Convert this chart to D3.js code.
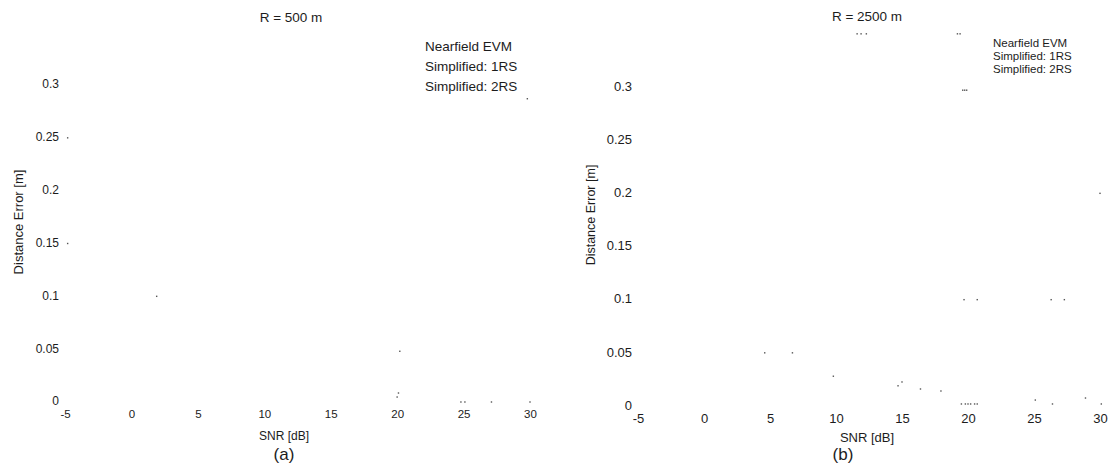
<!DOCTYPE html>
<html>
<head>
<meta charset="utf-8">
<script src="https://cdn.jsdelivr.net/npm/d3@7"></script>
<style>
  html, body { margin: 0; padding: 0; background: #fff; }
  svg { display: block; }
  text { font-family: "Liberation Sans", Arial, Helvetica, sans-serif; fill: #1c1c1c; }
</style>
</head>
<body>
<svg id="chart" width="1112" height="470"></svg>
<script>
// Axis ticks shared by both panels
const snrTicks = [-5, 0, 5, 10, 15, 20, 25, 30];
const errTicks = [0, 0.05, 0.1, 0.15, 0.2, 0.25, 0.3];

// Panel text
const panelTitles = ["R = 500 m", "R = 2500 m"];
const panelTags = ["(a)", "(b)"];
const legendLabels = ["Nearfield EVM", "Simplified: 1RS", "Simplified: 2RS"];
const xAxisTitle = "SNR [dB]";
const yAxisTitle = "Distance Error [m]";

// Surviving marker samples, R = 500 m (SNR in dB, error in m)
const snrA = [-4.8, -4.8, 1.9, 20.2, 20.1, 20.0, 24.8, 25.1, 27.1, 30.0, 29.8];
const errA = [0.25, 0.15, 0.1, 0.048, 0.0085, 0.0047, 0.0, 0.0, 0.0, 0.0, 0.287];

// Surviving marker samples, R = 2500 m
const snrB = [11.6, 11.9, 12.3, 19.2, 19.4, 19.6, 19.75, 19.9, 30.0,
              19.7, 20.7, 26.3, 27.3, 4.6, 6.7, 9.8, 14.7, 15.0, 16.4, 17.95,
              19.5, 19.8, 20.0, 20.2, 20.5, 20.7, 25.1, 26.4, 28.9, 30.1];
const errB = [0.35, 0.35, 0.35, 0.35, 0.35, 0.297, 0.297, 0.297, 0.2,
              0.1, 0.1, 0.1, 0.1, 0.05, 0.05, 0.028, 0.019, 0.0226, 0.016, 0.0141,
              0.0019, 0.0019, 0.0019, 0.0019, 0.0019, 0.0019, 0.0056, 0.0019, 0.0075, 0.0019];

const svg = d3.select("#chart");
svg.append("rect").attr("width", 1112).attr("height", 470).attr("fill", "#fff");

const panels = [
  {
    title: panelTitles[0], tag: panelTags[0], snr: snrA, err: errA,
    xRange: [65, 530], yRange: [402, 85], yLabelGap: 6,
    xTickSize: 11.5, yTickSize: 12, titleX: 291, titleY: 17, titleSize: 13.5,
    legendX: 425, legendY: 46, legendStep: 20, legendSize: 13.5,
    yTitleX: 18, yTitleY: 222, yTitleSize: 13, xTitleX: 284, xTitleY: 436, xTitleSize: 12,
    tagX: 284, tagY: 454
  },
  {
    title: panelTitles[1], tag: panelTags[1], snr: snrB, err: errB,
    xRange: [638, 1100], yRange: [406, 87], yLabelGap: 6,
    xTickSize: 13, yTickSize: 13, titleX: 867, titleY: 16, titleSize: 13.5,
    legendX: 993, legendY: 43, legendStep: 13, legendSize: 11.5,
    yTitleX: 591, yTitleY: 215, yTitleSize: 12.5, xTitleX: 867, xTitleY: 437, xTitleSize: 13,
    tagX: 843, tagY: 454
  }
];

panels.forEach(p => {
  const x = d3.scaleLinear().domain([-5, 30]).range(p.xRange);
  const y = d3.scaleLinear().domain([0, 0.3]).range(p.yRange);
  const g = svg.append("g");

  // x tick labels (axis line and ticks are not drawn); plain hyphen for negatives
  const xAxis = d3.axisBottom(x).tickValues(snrTicks).tickSize(0).tickPadding(0)
    .tickFormat(d => String(d));
  const gx = g.append("g").attr("transform", `translate(0,${p.yRange[0] + 8})`).call(xAxis);
  gx.select(".domain").remove();
  gx.selectAll("text").attr("font-size", p.xTickSize).attr("font-family", null)
    .attr("fill", "#1c1c1c");

  // y tick labels
  const yAxis = d3.axisLeft(y).tickValues(errTicks).tickSize(0).tickPadding(0)
    .tickFormat(d => d === 0 ? "0" : String(+d.toFixed(2)));
  const gy = g.append("g").attr("transform", `translate(${p.xRange[0] - p.yLabelGap},-1)`).call(yAxis);
  gy.select(".domain").remove();
  gy.selectAll("text").attr("font-size", p.yTickSize).attr("font-family", null)
    .attr("fill", "#1c1c1c");

  // faint marker remnants
  g.append("g").selectAll("rect")
    .data(p.snr.map((s, i) => [s, p.err[i]]))
    .join("rect")
    .attr("x", d => x(d[0]) - 0.7)
    .attr("y", d => y(d[1]) - 0.7)
    .attr("width", 1.4)
    .attr("height", 1.4)
    .attr("fill", "#555");

  // panel title
  g.append("text").attr("x", p.titleX).attr("y", p.titleY)
    .attr("text-anchor", "middle").attr("dominant-baseline", "central")
    .attr("font-size", p.titleSize).text(p.title);

  // legend labels
  g.append("g").selectAll("text").data(legendLabels).join("text")
    .attr("x", p.legendX)
    .attr("y", (d, i) => p.legendY + i * p.legendStep)
    .attr("dominant-baseline", "central")
    .attr("font-size", p.legendSize)
    .text(d => d);

  // axis titles
  g.append("text")
    .attr("transform", `translate(${p.yTitleX},${p.yTitleY}) rotate(-90)`)
    .attr("text-anchor", "middle").attr("dominant-baseline", "central")
    .attr("font-size", p.yTitleSize).text(yAxisTitle);
  g.append("text").attr("x", p.xTitleX).attr("y", p.xTitleY)
    .attr("text-anchor", "middle").attr("dominant-baseline", "central")
    .attr("font-size", p.xTitleSize).text(xAxisTitle);

  // sub-figure tag
  g.append("text").attr("x", p.tagX).attr("y", p.tagY)
    .attr("text-anchor", "middle").attr("dominant-baseline", "central")
    .attr("font-size", 17).text(p.tag);
});
</script>
</body>
</html>
